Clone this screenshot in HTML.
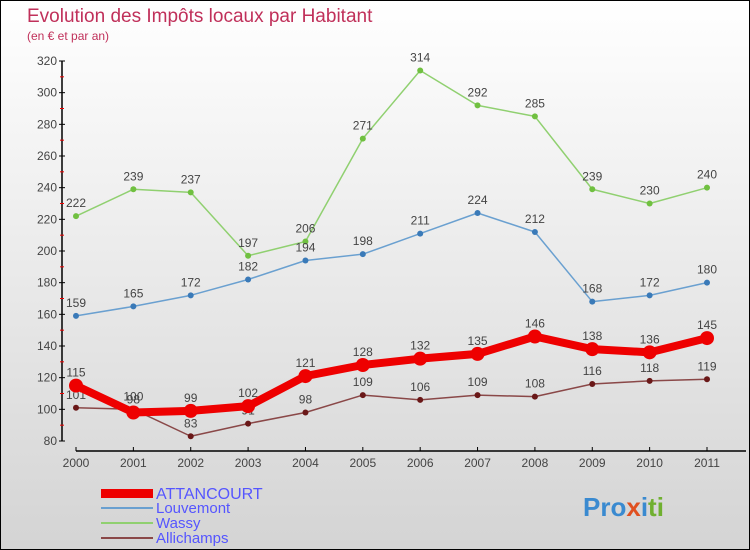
<!DOCTYPE html>
<html><head><meta charset="utf-8"><style>
body{margin:0}
#c{width:750px;height:550px;position:relative;overflow:hidden;background:linear-gradient(#fff,#d4d4d4);border:1px solid #000;box-sizing:border-box;font-family:"Liberation Sans",sans-serif}
</style></head><body>
<div id="c">
<svg width="750" height="550" id="s">
<text x="26" y="21" font-size="19" fill="#c0305a">Evolution des Impôts locaux par Habitant</text>
<text x="26" y="39" font-size="12" fill="#c0305a">(en € et par an)</text>
<g id="ax"></g><g id="series"></g>
<g>
<rect x="100" y="488" width="52" height="9" fill="#e00"/>
<text x="155" y="498" font-size="16" fill="#55f">ATTANCOURT</text>
<line x1="100" y1="507" x2="152" y2="507" stroke="#6aa0d0" stroke-width="2"/>
<text x="155" y="512" font-size="15" fill="#55f">Louvemont</text>
<line x1="100" y1="522" x2="152" y2="522" stroke="#90d070" stroke-width="2"/>
<text x="155" y="527" font-size="15" fill="#55f">Wassy</text>
<line x1="100" y1="537" x2="152" y2="537" stroke="#8a4848" stroke-width="2"/>
<text x="155" y="542" font-size="15" fill="#55f">Allichamps</text>
</g>
<text x="582" y="515" font-size="26" font-weight="bold"><tspan fill="#3a8ad0">Pro</tspan><tspan fill="#e05020">x</tspan><tspan fill="#3a8ad0">i</tspan><tspan fill="#70b030">ti</tspan></text>
</svg></div>
<script>
const years=["2000","2001","2002","2003","2004","2005","2006","2007","2008","2009","2010","2011"];
const yTicks=[80,100,120,140,160,180,200,220,240,260,280,300,320];
const attancourt=[115,98,99,102,121,128,132,135,146,138,136,145];
const louvemont=[159,165,172,182,194,198,211,224,212,168,172,180];
const wassy=[222,239,237,197,206,271,314,292,285,239,230,240];
const allichamps=[101,100,83,91,98,109,106,109,108,116,118,119];
const NS="http://www.w3.org/2000/svg";
const X=i=>75+i*(706-75)/11;
const Y=v=>440-(v-80)*380/240;
function mk(t,a,p){const e=document.createElementNS(NS,t);for(const k in a)e.setAttribute(k,a[k]);p.appendChild(e);return e;}
const ax=document.getElementById('ax');
let l=mk('line',{x1:61,y1:Y(320),x2:61,y2:Y(80),stroke:'#000','stroke-width':1.5},ax);


l=mk('line',{x1:75,y1:450,x2:745,y2:450,stroke:'#000','stroke-width':1.5},ax);


yTicks.forEach((v,i)=>{
 mk('line',{x1:58,y1:Y(v),x2:64,y2:Y(v),stroke:'#000'},ax);
 if(i<yTicks.length-1)mk('line',{x1:59,y1:Y(v+10),x2:63,y2:Y(v+10),stroke:'#e00'},ax);
 const t=mk('text',{x:56,y:Y(v)+4,'font-size':12,fill:'#444','text-anchor':'end'},ax);t.textContent=v;
 
 
});
years.forEach((y,i)=>{
 mk('line',{x1:X(i),y1:446,x2:X(i),y2:450,stroke:'#000'},ax);
 const t=mk('text',{x:X(i),y:466,'font-size':12,fill:'#444','text-anchor':'middle'},ax);t.textContent=y;
 
 
});
const sg=document.getElementById('series');
function series(d,name,col,w,r,dot){
 const g=mk('g',{},sg);
 
 
 const p=mk('polyline',{points:d.map((v,i)=>X(i)+','+Y(v)).join(' '),fill:'none',stroke:col,'stroke-width':w,'stroke-linejoin':'round'},g);
 
 
 d.forEach((v,i)=>{
  const c=mk('circle',{cx:X(i),cy:Y(v),r:r,fill:dot},g);
  
  
  const t=mk('text',{x:X(i),y:Y(v)-9,'font-size':12,fill:'#444','text-anchor':'middle'},g);t.textContent=v;
  
  
 });
}
series(wassy,'wassy','#90d070',1.5,3,'#70c040');
series(louvemont,'louvemont','#6aa0d0',1.5,3,'#3a7ab8');
series(allichamps,'allichamps','#8a4848',1.5,3,'#6a1818');
series(attancourt,'attancourt','#e00',8,7,'#e00');
</script>
</body></html>
